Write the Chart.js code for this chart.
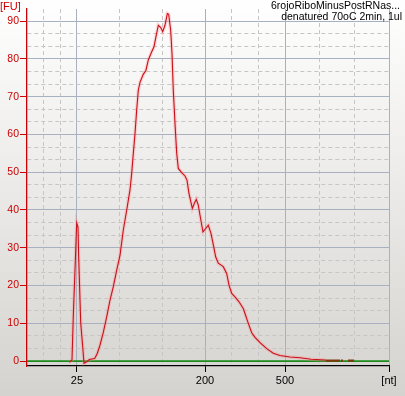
<!DOCTYPE html>
<html>
<head>
<meta charset="utf-8">
<script src="https://cdn.jsdelivr.net/npm/chart.js@4/dist/chart.umd.min.js"></script>
<style>
  html, body { margin: 0; padding: 0; background: #fff; }
  canvas { display: block; }
</style>
</head>
<body>
<canvas id="chart" width="405" height="396"></canvas>
<script>
// migration time (s) and fluorescence (FU) of the sample trace
const times = [24.96, 25.34, 25.52, 25.80, 26.00, 26.18, 26.28, 26.57, 26.85, 27.03,
  27.41, 27.78, 28.54, 28.90, 29.28, 29.75, 30.23, 30.69, 31.16, 31.64,
  32.10, 32.57, 33.05, 33.51, 33.75, 33.98, 34.22, 34.45, 34.68, 34.92,
  35.38, 35.76, 36.09, 36.57, 36.89, 37.17, 37.50, 37.84, 38.12, 38.44,
  38.77, 38.96, 39.24, 39.43, 39.61, 39.85, 40.09, 40.32, 40.79, 41.26,
  41.54, 41.82, 42.29, 42.57, 42.85, 43.13, 43.41, 43.79, 44.18, 44.54,
  44.92, 45.30, 45.58, 45.95, 46.65, 47.13, 47.46, 47.84, 48.30, 48.87,
  49.47, 49.71, 50.18, 50.66, 51.12, 51.83, 52.77, 53.70, 54.64, 56.05,
  57.46, 59.01, 61.12];
const fu = [-0.3, 0.3, 11.7, 26, 36.6, 35.5, 27.6, 10, 3.8, -0.6,
  -0.2, 0.4, 0.7, 2.0, 4.2, 7.6, 11.7, 16.1, 19.7, 24.1,
  28, 34.7, 40, 45.3, 49.7, 55, 60.3, 66.4, 71.7, 73.8,
  75.9, 77, 79.7, 81.9, 83.2, 85.9, 88.9, 88.3, 87.2, 88.9,
  92, 91.8, 87.6, 81.4, 71.7, 62.9, 55, 51, 49.9, 49.0,
  47.9, 44.4, 40.4, 41.7, 42.8, 41.3, 38.2, 34.2, 35.1, 36,
  33.8, 30.3, 27.6, 25.9, 25, 23.2, 20.1, 17.9, 17, 15.7,
  13.9, 12.6, 10, 7.5, 6.3, 4.9, 3.3, 2.1, 1.5, 1.1,
  0.9, 0.5, 0.3];

// low segments at the end (brown)
const lowTimes = [61.12, 63.10, 63.11, 63.24, 63.52, 63.53, 64.22, 65.07];
const lowFu = [0.1, 0.1, null, 0.1, 0.1, null, 0.1, 0.1];

// ladder
const ladderNt = [25, 200, 500];
const ladderTimes = [26.04, 44.08, 55.35];
const xMin = 19, xMax = 70;
const yMin = -1.3, yMax = 93.2;
const yMajor = [0, 10, 20, 30, 40, 50, 60, 70, 80, 90];

const sampleName = "6rojoRiboMinusPostRNas...";
const sampleNote = "denatured 70oC 2min, 1ul";

const FONT = '"Liberation Sans", Arial, sans-serif';

const trace = times.map((t, i) => ({ x: t, y: fu[i] }));
const low = lowTimes.map((t, i) => ({ x: t, y: lowFu[i] }));

// x ticks: ladder marks plus thirds between them
const bounds = [xMin, ...ladderTimes, xMax];
const xTicks = [];
for (let i = 0; i < bounds.length - 1; i++) {
  const a = bounds[i], b = bounds[i + 1];
  xTicks.push({ value: a });
  xTicks.push({ value: a + (b - a) / 3 });
  xTicks.push({ value: a + 2 * (b - a) / 3 });
}
xTicks.push({ value: xMax });
function xLabel(v) {
  const k = ladderTimes.findIndex(t => Math.abs(t - v) < 1e-6);
  if (k >= 0) return String(ladderNt[k]);
  if (Math.abs(v - xMax) < 1e-6) return '[nt]';
  return '';
}
function xIsMajor(v) { return xLabel(v) !== ''; }

const yTicks = [];
yMajor.forEach((v, i) => {
  yTicks.push({ value: v });
  if (i < yMajor.length - 1) {
    yTicks.push({ value: v + 10 / 3 });
    yTicks.push({ value: v + 20 / 3 });
  }
});
function yIsMajor(v) { return yMajor.some(m => Math.abs(m - v) < 1e-6); }

const bgPlugin = {
  id: 'bg',
  beforeDraw(chart) {
    const { ctx, width, height } = chart;
    const g = ctx.createLinearGradient(0, 0, 0, height);
    g.addColorStop(0, '#ffffff');
    g.addColorStop(1, '#d5d3cf');
    ctx.save();
    ctx.fillStyle = g;
    ctx.fillRect(0, 0, width, height);
    ctx.restore();
  },
  afterDraw(chart) {
    const { ctx } = chart;
    ctx.save();
    ctx.textBaseline = 'middle';
    ctx.font = '11px ' + FONT;
    ctx.fillStyle = '#cc0000';
    ctx.textAlign = 'left';
    ctx.fillText('[FU]', 0, 7);
    ctx.font = '10.5px ' + FONT;
    ctx.fillStyle = '#000';
    ctx.textAlign = 'right';
    ctx.fillText(sampleName, 400, 6);
    ctx.fillText(sampleNote, 402, 17.5);
    ctx.restore();
  }
};

new Chart(document.getElementById('chart'), {
  type: 'line',
  data: {
    datasets: [
      { data: low, borderColor: '#7b3a0c', borderWidth: 2.2, pointRadius: 0, spanGaps: false },
      { data: trace, borderColor: '#c8101a', borderWidth: 1.1, pointRadius: 0, tension: 0 },
      { data: trace, borderColor: 'rgba(255,130,130,0.3)', borderWidth: 3.5, pointRadius: 0, tension: 0 },
      { data: [{ x: xMin, y: 0 }, { x: xMax, y: 0 }], borderColor: '#1d8a1d', borderWidth: 1.6, pointRadius: 0 }
    ]
  },
  options: {
    responsive: false,
    animation: false,
    events: [],
    layout: { padding: { top: 9, right: 16, left: 0, bottom: 0 } },
    plugins: { legend: { display: false }, tooltip: { enabled: false } },
    scales: {
      x: {
        type: 'linear',
        min: xMin,
        max: xMax,
        afterBuildTicks(scale) { scale.ticks = xTicks.map(t => ({ value: t.value })); },
        afterFit(scale) { scale.height = 30; scale.paddingLeft = 0; scale.paddingRight = 0; },
        ticks: {
          autoSkip: false,
          maxRotation: 0,
          padding: 2,
          color: '#000',
          font: { size: 11, family: FONT },
          callback: (v) => xLabel(v)
        },
        grid: {
          color: (c) => (c.tick && Math.abs(c.tick.value - xMin) < 1e-6) ? 'rgba(0,0,0,0)'
            : (c.tick && xIsMajor(c.tick.value) ? '#a8b1bf' : '#c6c6c6'),
          lineWidth: 1,
          tickLength: 6,
          tickColor: (c) => (c.tick && xIsMajor(c.tick.value)) ? '#000' : 'rgba(0,0,0,0)'
        },
        border: {
          color: '#000',
          width: 1.2,
          dash: (c) => (c.tick && !xIsMajor(c.tick.value) ? [4, 3] : [])
        }
      },
      y: {
        min: yMin,
        max: yMax,
        afterBuildTicks(scale) { scale.ticks = yTicks.map(t => ({ value: t.value })); },
        afterFit(scale) { scale.width = 27; scale.paddingTop = 0; scale.paddingBottom = 0; },
        ticks: {
          autoSkip: false,
          padding: 1,
          color: '#cc0000',
          font: { size: 10.5, family: FONT },
          callback: (v) => yIsMajor(v) ? String(Math.round(v)) : ''
        },
        grid: {
          color: (c) => (c.tick && yIsMajor(c.tick.value)) ? '#a8b1bf' : '#c6c6c6',
          lineWidth: 1,
          tickLength: 7,
          tickColor: (c) => (c.tick && yIsMajor(c.tick.value)) ? '#cc0000' : 'rgba(0,0,0,0)'
        },
        border: {
          color: '#cc0000',
          width: 1.3,
          dash: (c) => (c.tick && !yIsMajor(c.tick.value) ? [4, 3] : [])
        }
      }
    }
  },
  plugins: [bgPlugin]
});
</script>
</body>
</html>
